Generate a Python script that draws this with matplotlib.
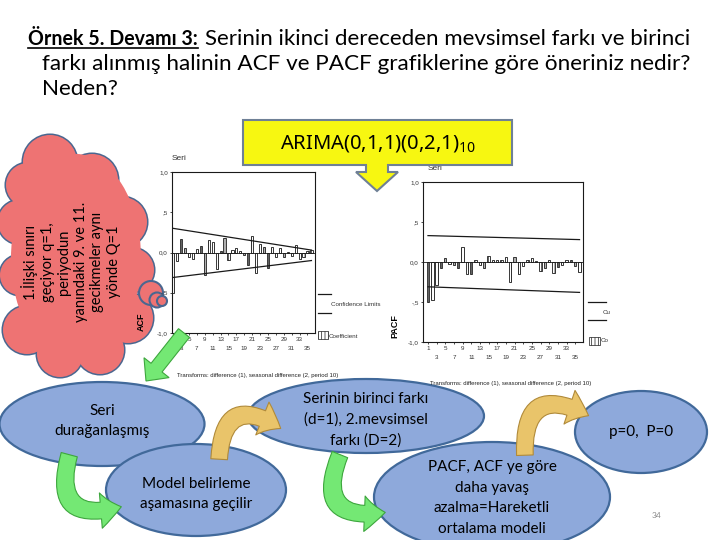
import matplotlib
matplotlib.use("Agg")
import matplotlib.pyplot as plt
from matplotlib.patches import Ellipse, Circle, Polygon, FancyArrowPatch, FancyArrow, Rectangle
from matplotlib.lines import Line2D

plt.rcParams['mathtext.fontset'] = 'custom'
plt.rcParams['mathtext.rm'] = 'Noto Sans'
plt.rcParams['hatch.linewidth'] = 0.5

# ---- data ----
lags = list(range(1, 37))
acf_vals = [-0.50, -0.10, 0.17, 0.05, -0.05, -0.08, 0.04, 0.08, -0.28, 0.16,
            0.13, -0.20, 0.02, 0.18, -0.09, 0.03, 0.06, 0.02, -0.03, -0.15,
            0.20, -0.26, 0.10, 0.07, -0.19, 0.07, -0.06, 0.05, -0.05, 0.01,
            -0.04, 0.09, -0.08, -0.06, 0.02, 0.03]
pacf_vals = [-0.50, -0.48, -0.29, -0.08, 0.05, -0.02, -0.04, -0.08, 0.19, -0.15,
             -0.15, 0.03, -0.04, -0.08, 0.08, 0.02, 0.03, 0.02, 0.06, -0.25,
             0.06, -0.15, -0.05, 0.03, 0.05, 0.01, -0.11, -0.08, 0.03, -0.14,
             -0.06, -0.04, 0.02, 0.03, -0.05, -0.12]
conf_lags = [1, 36]
acf_conf_upper = [0.30, 0.03]
acf_conf_lower = [-0.31, -0.10]
pacf_conf_upper = [0.33, 0.28]
pacf_conf_lower = [-0.31, -0.38]
ytick_vals = [-1.0, -0.5, 0.0, 0.5, 1.0]
ytick_labels = ['-1,0', '-,5', '0,0', ',5', '1,0']
xtick_lags = list(range(1, 36, 2))

title_bold = 'Örnek 5. Devamı 3:'
title_line1 = 'Serinin ikinci dereceden mevsimsel farkı ve birinci'
title_line2 = 'farkı alınmış halinin ACF ve PACF grafiklerine göre öneriniz nedir?'
title_line3 = 'Neden?'
cloud_lines = ['1.İlişki sınırı', 'geçiyor q=1,', 'periyodun',
               'yanındaki 9. ve 11.', 'gecikmeler aynı', 'yönde Q=1']
caption = 'Transforms: difference (1), seasonal difference (2, period 10)'

W, H = 720, 540
SLIDE_FONT = 'Lato'
CHART_FONT = 'Liberation Sans'


def px_rect(x0, y0, x1, y1):
    return [x0 / W, 1 - y1 / H, (x1 - x0) / W, (y1 - y0) / H]


def fit_width(t, target):
    # scale the font so the text spans the width it has on the slide
    w = t.get_window_extent(fig.canvas.get_renderer()).width
    t.set_fontsize(t.get_fontsize() * target / w)


def draw_corr(rect, vals, upper, lower, xlim, ylabel, label_xy):
    ax = fig.add_axes(px_rect(*rect))
    ax.bar(lags, vals, width=0.55, color='white', edgecolor='#1a1a1a',
           lw=0.6, hatch='|||||', zorder=2)
    ax.axhline(0, color='#1a1a1a', lw=0.6, zorder=3)
    ax.plot(conf_lags, upper, color='#1a1a1a', lw=0.9)
    ax.plot(conf_lags, lower, color='#1a1a1a', lw=0.9)
    ax.set_xlim(*xlim)
    ax.set_ylim(-1.0, 1.0)
    ax.set_yticks(ytick_vals)
    ax.set_yticklabels(ytick_labels, fontsize=4.5, family=CHART_FONT, color='#333333')
    ax.set_xticks(xtick_lags)
    ax.set_xticklabels([str(k) if i % 2 == 0 else '\n' + str(k)
                        for i, k in enumerate(xtick_lags)],
                       fontsize=4.5, family=CHART_FONT, color='#333333', linespacing=1.9)
    ax.tick_params(length=1.5, width=0.5, pad=1.5)
    for s in ax.spines.values():
        s.set_linewidth(0.8)
        s.set_color('#1a1a1a')
    ax.set_ylabel(ylabel, fontsize=6.5, fontweight='bold', family=CHART_FONT)
    ax.yaxis.set_label_coords(*label_xy)
    return ax


fig = plt.figure(figsize=(7.2, 5.4), dpi=100)
fig.patch.set_facecolor('white')
bg = fig.add_axes([0, 0, 1, 1])
bg.set_xlim(0, W)
bg.set_ylim(H, 0)
bg.axis('off')

# ---- title ----
t_bold = bg.text(28, 45, title_bold, fontsize=12.5, fontweight='bold',
                 family=SLIDE_FONT, va='baseline')
t1 = bg.text(205, 45, title_line1, fontsize=14, family=SLIDE_FONT, va='baseline')
t2 = bg.text(42, 70, title_line2, fontsize=14, family=SLIDE_FONT, va='baseline')
t3 = bg.text(42, 95, title_line3, fontsize=14, family=SLIDE_FONT, va='baseline')
fit_width(t_bold, 170)
fit_width(t1, 487)
fit_width(t2, 650)
t3.set_fontsize(t2.get_fontsize())
t1.set_fontsize(min(t1.get_fontsize(), t2.get_fontsize()))

# ---- thought cloud ----
cloud_fill = '#EE7373'
cloud_edge = '#4A6790'
cloud_parts = [(50, 162, 27), (92, 180, 26), (122, 222, 25), (132, 270, 22),
               (128, 318, 25), (100, 350, 24), (60, 354, 23), (27, 330, 24),
               (20, 275, 20), (20, 222, 22), (28, 185, 22)]
for cx, cy, r in cloud_parts:
    bg.add_patch(Circle((cx, cy), r, facecolor=cloud_fill, edgecolor=cloud_edge, lw=2.2, zorder=1))
for cx, cy, r in cloud_parts:
    bg.add_patch(Circle((cx, cy), r, facecolor=cloud_fill, edgecolor='none', zorder=2))
bg.add_patch(Ellipse((76, 258), 130, 208, facecolor=cloud_fill, edgecolor='none', zorder=2))
for cx, cy, r in [(151, 293, 12), (157, 300, 7.5), (162, 301, 5)]:
    bg.add_patch(Circle((cx, cy), r, facecolor=cloud_fill, edgecolor=cloud_edge, lw=1.5, zorder=3))
bg.text(71, 262, '\n'.join(cloud_lines), rotation=90, ha='center', va='center',
        multialignment='center', fontsize=10.5, family=SLIDE_FONT, linespacing=1.22, zorder=4)

# ---- ACF / PACF charts ----
acf_ax = draw_corr((172, 172, 315, 333), acf_vals, acf_conf_upper, acf_conf_lower,
                   (0.7, 36.9), 'ACF', (-0.18, 0.07))
pacf_ax = draw_corr((423, 182, 583, 342), pacf_vals, pacf_conf_upper, pacf_conf_lower,
                    (-0.15, 36.8), 'PACF', (-0.15, 0.1))

bg.text(172, 160, 'Seri', fontsize=6, family=CHART_FONT, color='#333333')
bg.text(428, 170, 'Seri', fontsize=6, family=CHART_FONT, color='#333333')
bg.text(258, 375, caption, fontsize=4.3, family=CHART_FONT, ha='center', va='center', color='#222222')
bg.text(511, 383, caption, fontsize=4.3, family=CHART_FONT, ha='center', va='center', color='#222222')

# legend pieces next to the charts
for y in (294, 313):
    bg.add_line(Line2D([318, 331], [y, y], color='#1a1a1a', lw=0.9))
bg.text(331, 305, 'Confidence Limits', fontsize=4.5, family=CHART_FONT, va='center', color='#333333')
bg.add_patch(Rectangle((318, 331), 10, 8, facecolor='white', edgecolor='#1a1a1a', lw=0.5, hatch='|||||'))
bg.text(329, 336, 'Coefficient', fontsize=4.5, family=CHART_FONT, va='center', color='#333333')
for y in (302, 320):
    bg.add_line(Line2D([588, 606], [y, y], color='#1a1a1a', lw=0.9))
bg.text(603, 313, 'Cu', fontsize=4.5, family=CHART_FONT, va='center', color='#333333')
bg.add_patch(Rectangle((589, 337), 11, 8, facecolor='white', edgecolor='#1a1a1a', lw=0.5, hatch='|||||'))
bg.text(601, 341, 'Co', fontsize=4.5, family=CHART_FONT, va='center', color='#333333')

# ---- flow chart ellipses ----
ell_fill = '#8EA9DB'
ell_edge = '#41699A'
ellipses = [
    ((102, 424), 205, 84, 421, ['Seri', 'durağanlaşmış']),
    ((196, 490), 180, 92, 494, ['Model belirleme', 'aşamasına geçilir']),
    ((366, 416), 236, 74, 420, ['Serinin birinci farkı', '(d=1), 2.mevsimsel', 'farkı (D=2)']),
    ((492, 497), 236, 110, 498, ['PACF, ACF ye göre', 'daha yavaş', 'azalma=Hareketli', 'ortalama modeli']),
    ((641, 432), 132, 82, 432, ['p=0,  P=0']),
]
for (cx, cy), w, h, ty, lines in ellipses:
    bg.add_patch(Ellipse((cx, cy), w, h, facecolor=ell_fill, edgecolor=ell_edge, lw=1.6, zorder=2))
    bg.text(cx, ty, '\n'.join(lines), ha='center', va='center', multialignment='center',
            fontsize=11, family=SLIDE_FONT, linespacing=1.6, zorder=6)

green_fc, green_ec = '#74E874', '#3DA63D'
gold_fc, gold_ec = '#E9C46A', '#B08A3A'
arrows = [
    ((70, 452), (124, 506), 0.9, green_fc, green_ec),
    ((219, 462), (283, 430), -0.9, gold_fc, gold_ec),
    ((341, 452), (388, 512), 0.9, green_fc, green_ec),
    ((525, 458), (591, 417), -0.9, gold_fc, gold_ec),
]
for start, end, rad, fc, ec in arrows:
    bg.add_patch(FancyArrowPatch(start, end, connectionstyle=f'arc3,rad={rad}',
                                 arrowstyle='simple,head_length=1.0,head_width=1.7,tail_width=0.8',
                                 mutation_scale=15, facecolor=fc, edgecolor=ec, lw=0.8, zorder=4))

bg.text(657, 515, '34', fontsize=6, color='#888888', family=SLIDE_FONT, ha='center', va='center')

# ---- overlay: callout and green arrow ----
top = fig.add_axes([0, 0, 1, 1], zorder=5)
top.set_xlim(0, W)
top.set_ylim(H, 0)
top.axis('off')
callout = [(243, 120), (512, 120), (512, 165), (388, 165), (388, 172), (398, 172),
           (377, 191), (356, 172), (366, 172), (366, 165), (243, 165)]
top.add_patch(Polygon(callout, closed=True, facecolor='#F7F711', edgecolor='#6F8096', lw=1.5))
top.text(378, 144, r'ARIMA(0,1,1)(0,2,1)$_{10}$', fontsize=14.5, family='Noto Sans',
         ha='center', va='center')
top.add_patch(FancyArrow(184, 333, -38, 48, width=14, head_width=32, head_length=17,
                         length_includes_head=True, facecolor='#74E874', edgecolor='#3DA63D', lw=0.8))

# underline the bold part of the title
fig.canvas.draw()
bb = t_bold.get_window_extent().transformed(bg.transData.inverted())
bg.add_line(Line2D([bb.x0, bb.x1], [48, 48], color='black', lw=1.2))

fig.savefig('out.png', dpi=100, facecolor='white')
